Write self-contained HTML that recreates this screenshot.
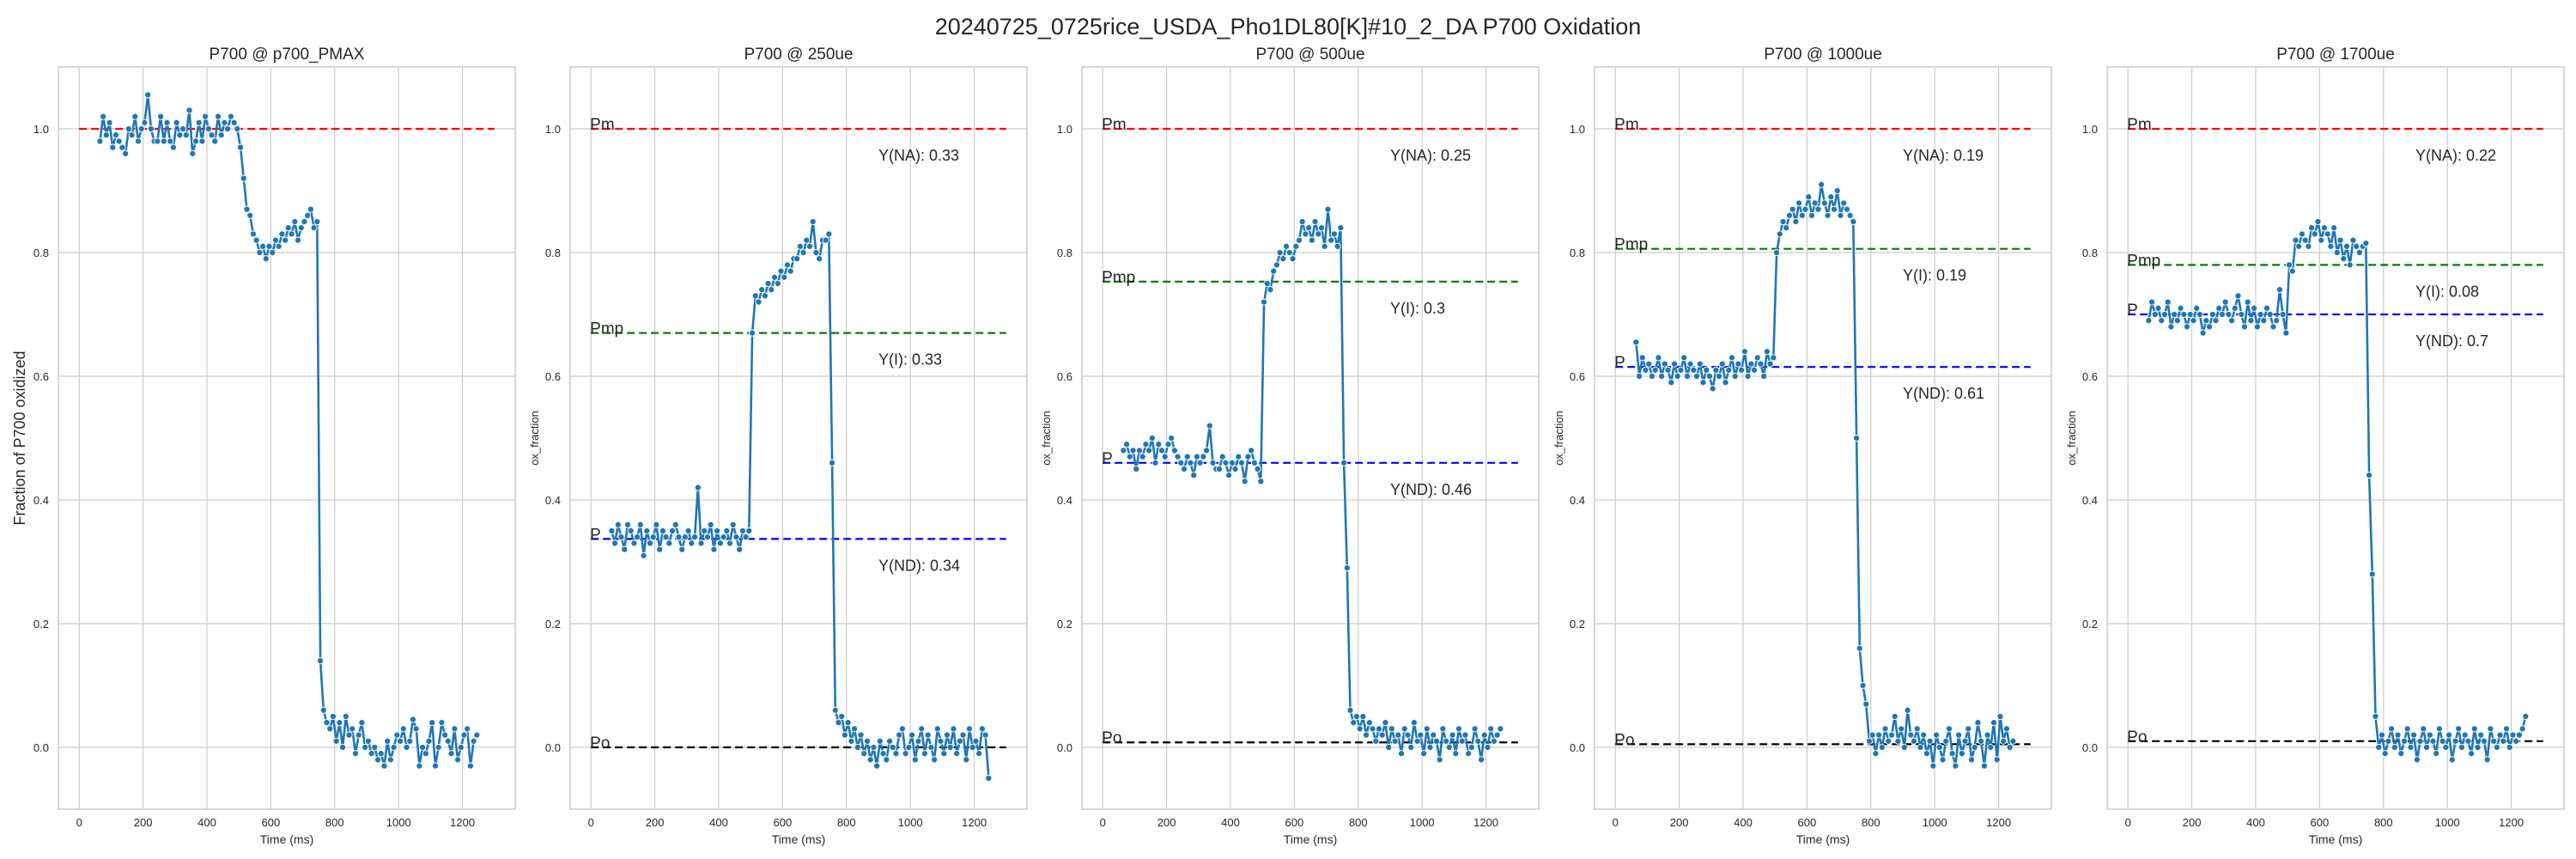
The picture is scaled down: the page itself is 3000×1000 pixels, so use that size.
<!DOCTYPE html>
<html><head><meta charset="utf-8">
<style>
html,body{margin:0;padding:0;background:#fff;}
svg{display:block;font-family:"Liberation Sans",Arial,sans-serif;}
</style></head>
<body>
<svg id="fig" width="3000" height="1000" viewBox="0 0 3000 1000" xmlns="http://www.w3.org/2000/svg">
<rect x="0" y="0" width="3000" height="1000" fill="#fff"/>
<text x="1500" y="40" text-anchor="middle" font-size="27" fill="#262626">20240725_0725rice_USDA_Pho1DL80[K]#10_2_DA P700 Oxidation</text>
</svg>
<script>
// shared time axis (ms)
const times = [];
for (let k = 0; k <= 118; k++) times.push(65 + 10 * k);

const panelTitles = ["P700 @ p700_PMAX", "P700 @ 250ue", "P700 @ 500ue", "P700 @ 1000ue", "P700 @ 1700ue"];
const xTicks = [0, 200, 400, 600, 800, 1000, 1200];
const yTicks = [0.0, 0.2, 0.4, 0.6, 0.8, 1.0];
const yTickLabels = ["0.0", "0.2", "0.4", "0.6", "0.8", "1.0"];

const series1 = [0.98,1.02,0.99,1.01,0.97,0.99,0.98,0.97,0.96,1.00,0.99,1.02,0.98,1.00,1.01,1.055,1.00,0.98,0.98,1.02,0.98,1.01,0.98,0.97,1.01,0.99,1.00,0.99,1.03,0.96,0.98,1.01,0.98,1.02,1.00,0.99,0.98,1.02,0.99,1.01,1.00,1.02,1.01,1.00,
 0.97,0.92,0.87,0.86,0.83,0.82,0.80,0.81,0.79,0.81,0.80,0.82,0.81,0.83,0.82,0.84,0.83,0.85,0.82,0.84,0.85,0.86,0.87,0.84,0.85,
 0.14,0.06,0.04,0.03,0.05,0.01,0.04,0.00,0.05,0.02,0.03,-0.01,0.02,0.04,0.00,0.01,-0.01,0.00,-0.02,-0.01,-0.03,0.01,-0.02,0.00,0.02,0.01,0.03,0.00,0.01,0.045,0.03,-0.03,0.00,-0.01,0.01,0.04,-0.03,0.00,0.04,0.02,0.01,-0.01,0.03,-0.02,0.00,0.02,0.03,-0.03,0.01,0.02];
const series2 = [0.35,0.33,0.36,0.34,0.32,0.36,0.35,0.33,0.34,0.36,0.31,0.35,0.33,0.34,0.36,0.32,0.35,0.34,0.33,0.35,0.36,0.34,0.32,0.34,0.35,0.33,0.34,0.42,0.33,0.35,0.34,0.36,0.32,0.35,0.33,0.34,0.35,0.33,0.36,0.34,0.32,0.35,0.34,0.35,
 0.67,0.73,0.72,0.74,0.73,0.75,0.74,0.76,0.75,0.77,0.76,0.78,0.77,0.79,0.79,0.81,0.80,0.82,0.81,0.85,0.80,0.79,0.82,0.82,0.83,
 0.46,0.06,0.04,0.05,0.02,0.04,0.01,0.03,0.00,0.02,-0.01,0.01,-0.02,0.00,-0.03,0.01,-0.01,-0.02,0.01,0.00,-0.01,0.02,0.03,-0.01,0.00,0.02,-0.02,0.01,0.03,-0.01,0.02,0.00,-0.02,0.03,0.01,-0.01,0.02,0.00,0.03,-0.01,0.01,0.02,-0.02,0.03,0.00,0.01,-0.01,0.03,0.02,-0.05];
const series3 = [0.48,0.49,0.47,0.48,0.45,0.48,0.47,0.49,0.48,0.50,0.46,0.49,0.48,0.47,0.49,0.50,0.48,0.47,0.46,0.45,0.47,0.46,0.44,0.47,0.46,0.47,0.48,0.52,0.46,0.45,0.45,0.47,0.46,0.44,0.46,0.45,0.47,0.46,0.43,0.47,0.48,0.46,0.45,0.43,
 0.72,0.75,0.74,0.77,0.78,0.80,0.79,0.81,0.80,0.79,0.81,0.82,0.85,0.83,0.84,0.82,0.85,0.83,0.84,0.81,0.87,0.82,0.83,0.81,0.84,
 0.46,0.29,0.06,0.04,0.05,0.03,0.05,0.02,0.04,0.03,0.01,0.03,0.02,0.04,0.00,0.03,0.01,0.02,-0.01,0.03,0.02,0.00,0.04,0.01,0.02,-0.01,0.03,0.00,0.02,0.01,-0.02,0.03,0.01,0.00,0.02,-0.01,0.03,0.01,0.02,-0.01,0.00,0.03,0.01,-0.02,0.02,0.00,0.03,0.01,0.02,0.03];
const series4 = [0.655,0.60,0.63,0.61,0.62,0.60,0.61,0.63,0.60,0.62,0.61,0.59,0.62,0.60,0.61,0.63,0.60,0.62,0.61,0.60,0.62,0.59,0.61,0.60,0.58,0.61,0.60,0.62,0.59,0.61,0.63,0.60,0.62,0.61,0.64,0.60,0.62,0.61,0.63,0.62,0.60,0.64,0.62,0.63,
 0.80,0.83,0.85,0.84,0.86,0.87,0.85,0.88,0.86,0.87,0.89,0.86,0.88,0.87,0.91,0.88,0.86,0.89,0.87,0.90,0.86,0.88,0.87,0.86,0.85,
 0.50,0.16,0.10,0.07,0.01,0.02,-0.01,0.02,0.00,0.03,0.01,0.02,0.05,0.01,0.03,0.00,0.06,0.02,0.01,0.03,0.00,0.02,-0.01,0.01,-0.03,0.02,0.00,-0.02,0.01,0.03,-0.01,-0.03,0.02,-0.01,0.01,0.03,-0.02,0.00,0.04,0.01,-0.03,0.02,0.00,0.04,-0.02,0.05,0.01,0.03,0.00,0.01];
const series5 = [0.69,0.72,0.70,0.71,0.69,0.70,0.72,0.68,0.70,0.69,0.71,0.70,0.68,0.70,0.69,0.71,0.70,0.67,0.69,0.68,0.70,0.69,0.71,0.70,0.72,0.70,0.69,0.71,0.73,0.70,0.68,0.72,0.69,0.71,0.68,0.70,0.69,0.71,0.70,0.68,0.69,0.74,0.70,0.67,
 0.78,0.77,0.82,0.81,0.83,0.82,0.81,0.84,0.83,0.85,0.82,0.84,0.83,0.81,0.84,0.80,0.82,0.79,0.81,0.78,0.82,0.81,0.80,0.81,0.815,
 0.44,0.28,0.05,0.00,0.02,-0.01,0.01,0.03,0.00,0.02,-0.01,0.01,0.03,0.00,0.02,-0.02,0.01,0.03,0.00,0.02,0.01,-0.01,0.03,0.01,0.00,0.02,-0.02,0.01,0.03,0.00,0.02,0.01,-0.01,0.03,0.00,0.02,0.01,-0.02,0.03,0.01,0.00,0.02,0.01,0.03,0.00,0.02,0.01,0.02,0.03,0.05];

// reference levels: Pm, Pmp, P, Po  (null = not drawn)
const levelPm = [1.0, 1.0, 1.0, 1.0, 1.0];
const levelPmp = [null, 0.67, 0.753, 0.806, 0.78];
const levelP = [null, 0.337, 0.46, 0.615, 0.70];
const levelPo = [null, 0.0, 0.008, 0.005, 0.01];
const yNA = ["", "0.33", "0.25", "0.19", "0.22"];
const yI = ["", "0.33", "0.3", "0.19", "0.08"];
const yND = ["", "0.34", "0.46", "0.61", "0.7"];

const allSeries = [series1, series2, series3, series4, series5];

const NS = "http://www.w3.org/2000/svg";
const svg = document.getElementById("fig");
function mk(tag, attrs, parent) {
  const e = document.createElementNS(NS, tag);
  for (const k in attrs) e.setAttribute(k, attrs[k]);
  (parent || svg).appendChild(e);
  return e;
}
const panelLefts = [68, 664, 1260, 1857, 2454];
const AW = 532, AT = 78, AB = 942;
const XMIN = -65, XMAX = 1365, YMIN = -0.1, YMAX = 1.1;

for (let p = 0; p < 5; p++) {
  const L = panelLefts[p];
  const xs = v => L + (v - XMIN) / (XMAX - XMIN) * AW;
  const ys = v => AB - (v - YMIN) / (YMAX - YMIN) * (AB - AT);
  const g = mk("g", {});
  
  

  // grid
  xTicks.forEach(t => {
    const l = mk("line", {x1: xs(t), x2: xs(t), y1: AT, y2: AB, stroke: "#cccccc", "stroke-width": 1.2}, g);
    
    
    const tx = mk("text", {x: xs(t), y: 962, "text-anchor": "middle", "font-size": 13, fill: "#262626"}, g);
    
    
    tx.textContent = String(t);
  });
  yTicks.forEach((t, i) => {
    const l = mk("line", {x1: L, x2: L + AW, y1: ys(t), y2: ys(t), stroke: "#cccccc", "stroke-width": 1.2}, g);
    
    
    const tx = mk("text", {x: L - 11, y: ys(t) + 5, "text-anchor": "end", "font-size": 13, fill: "#262626"}, g);
    
    
    tx.textContent = yTickLabels[i];
  });
  const frame = mk("rect", {x: L, y: AT, width: AW, height: AB - AT, fill: "none", stroke: "#cccccc", "stroke-width": 1.5}, g);
  
  

  // title & labels
  const ti = mk("text", {x: L + AW / 2, y: 69, "text-anchor": "middle", "font-size": 19, fill: "#262626"}, g);
  
  
  ti.textContent = panelTitles[p];
  const xl = mk("text", {x: L + AW / 2, y: 982, "text-anchor": "middle", "font-size": 14, fill: "#262626"}, g);
  
  
  xl.textContent = "Time (ms)";
  if (p === 0) {
    const yl = mk("text", {x: 0, y: 0, "text-anchor": "middle", "font-size": 18, fill: "#262626", transform: "translate(29," + (AT + AB) / 2 + ") rotate(-90)"}, g);
    
    
    yl.textContent = "Fraction of P700 oxidized";
  } else {
    const yl = mk("text", {x: 0, y: 0, "text-anchor": "middle", "font-size": 13, fill: "#262626", transform: "translate(" + (L - 37) + "," + (AT + AB) / 2 + ") rotate(-90)"}, g);
    
    
    yl.textContent = "ox_fraction";
  }

  // reference lines
  const levels = [[levelPm[p], "red", "Pm", "level-pm"], [levelPmp[p], "#008000", "Pmp", "level-pmp"], [levelP[p], "blue", "P", "level-p"], [levelPo[p], "black", "Po", "level-po"]];
  levels.forEach(([v, c, lab, nm]) => {
    if (v === null) return;
    const ln = mk("line", {x1: xs(0), x2: xs(1300), y1: ys(v), y2: ys(v), stroke: c, "stroke-width": 2.2, "stroke-dasharray": "9,5"}, g);
    
    
    if (p > 0) {
      const t = mk("text", {x: xs(0) - 1, y: ys(v) + 1, "font-size": 19, fill: "#262626"}, g);
      
      
      t.textContent = lab;
    }
  });
  if (p > 0) {
    const ann = [[levelPm[p], "Y(NA): " + yNA[p], "yna-annotation"], [levelPmp[p], "Y(I): " + yI[p], "yi-annotation"], [levelP[p], "Y(ND): " + yND[p], "ynd-annotation"]];
    ann.forEach(([v, s, nm]) => {
      const t = mk("text", {x: xs(900), y: ys(v) + 37, "font-size": 18, fill: "#262626"}, g);
      
      
      t.textContent = s;
    });
  }

  // series
  const data = allSeries[p];
  const n = Math.min(data.length, times.length);
  let d = "";
  for (let i = 0; i < n; i++) d += (i ? "L" : "M") + xs(times[i]).toFixed(1) + "," + ys(data[i]).toFixed(1);
  const path = mk("path", {d: d, fill: "none", stroke: "#1f77b4", "stroke-width": 2.6, "stroke-linejoin": "round"}, g);
  
  
  for (let i = 0; i < n; i++) {
    const c = mk("circle", {cx: xs(times[i]), cy: ys(data[i]), r: 3.6, fill: "#1f77b4", stroke: "#fff", "stroke-width": 0.9}, g);
    
    
  }
}
</script>
</body></html>
